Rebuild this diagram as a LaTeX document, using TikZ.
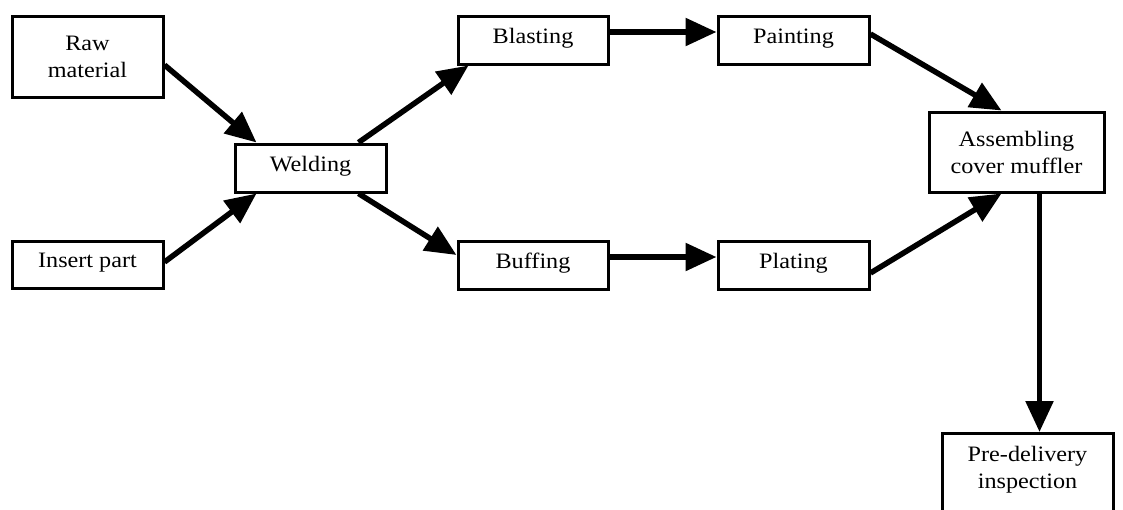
\documentclass[tikz,border=0pt]{standalone}
\usepackage{fontspec}
\setmainfont{Liberation Serif}[FakeStretch=1.1]
\usetikzlibrary{arrows.meta,calc}
\begin{document}
\begin{tikzpicture}[x=1pt,y=-1pt,
  box/.style={draw, line width=3pt, inner sep=0pt, align=center, font=\fontsize{22}{27}\selectfont},
  one/.style={text height=15pt, text depth=9pt},
  flow/.style={line width=5.5pt, -{Triangle[length=31pt,width=27pt]}}]
\useasboundingbox (0,0) rectangle (1123,509);
\clip (0,0) rectangle (1123,509);
\fill[white] (0,0) rectangle (1123,509);
\node[box, minimum width=151pt, minimum height=81pt] (raw) at (87.5,56.5) {Raw\\material};
\node[box, one, minimum width=151pt, minimum height=47pt] (insert) at (87.5,264.5) {Insert part};
\node[box, one, minimum width=151pt, minimum height=48pt] (weld) at (310.5,168) {Welding};
\node[box, one, minimum width=150pt, minimum height=48pt] (blast) at (533,40) {Blasting};
\node[box, one, minimum width=151pt, minimum height=48pt] (paint) at (793.5,40) {Painting};
\node[box, one, minimum width=150pt, minimum height=48pt] (buff) at (533,265) {Buffing};
\node[box, one, minimum width=151pt, minimum height=48pt] (plate) at (793.5,265) {Plating};
\node[box, minimum width=175pt, minimum height=80pt] (assem) at (1016.5,152) {Assembling\\cover muffler};
\node[box, minimum width=171pt, minimum height=110pt, anchor=north] (pre) at (1027.5,432) {};
\node[align=center, inner sep=0pt, font=\fontsize{22}{27}\selectfont] (pretxt) at (1027.5,470) {Pre-delivery\\inspection};
\draw[flow] ($(raw.east)+(0,8.5)$) -- ($(weld.north west)+(23,0)$);
\draw[flow] ($(insert.east)+(0,-2.5)$) -- ($(weld.south west)+(23,0)$);
\draw[flow] ($(weld.north west)+(125,0)$) -- ($(blast.south west)+(12,0)$);
\draw[flow] ($(weld.south west)+(125,0)$) -- ($(buff.west)+(0,-10)$);
\draw[flow] ($(blast.east)+(0,-8)$) -- ($(paint.west)+(0,-8)$);
\draw[flow] ($(buff.east)+(0,-8)$) -- ($(plate.west)+(0,-8)$);
\draw[flow] ($(paint.east)+(0,-6)$) -- ($(assem.north west)+(74,0)$);
\draw[flow] ($(plate.east)+(0,8)$) -- ($(assem.south west)+(74,0)$);
\draw[flow] ($(assem.south west)+(112,0)$) -- ($(pre.north west)+(99,0)$);
\end{tikzpicture}
\end{document}
